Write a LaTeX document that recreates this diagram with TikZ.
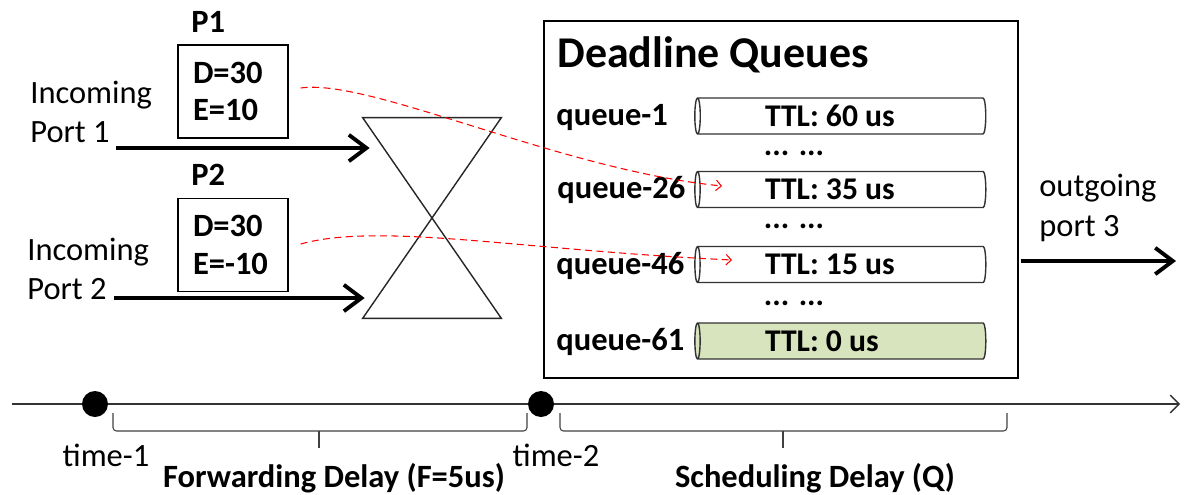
\documentclass[tikz,border=0pt]{standalone}
\usepackage{fontspec}
\setmainfont{Carlito}
\usepackage{tikz}
\usetikzlibrary{arrows.meta, positioning, shapes.geometric}

\definecolor{ttlgreen}{RGB}{215,228,189}

\tikzstyle{port} = [line width=2.2pt, -{Straight Barb[length=10pt,width=15pt]}]
\tikzstyle{enqueue} = [red, line width=0.6pt, dash pattern=on 4pt off 2.5pt, -{Straight Barb[length=3pt,width=6pt]}]
\tikzstyle{packet} = [rectangle, draw=black, line width=0.8pt, minimum width=2.2cm, minimum height=1.86cm, text width=1.6cm, align=left, font=\fontsize{18.5}{21.5}\selectfont\bfseries]
\tikzstyle{txt} = [font=\fontsize{18.5}{22.5}\selectfont, align=left, inner sep=0pt]
\tikzstyle{btxt} = [txt, font=\fontsize{18.5}{22.5}\selectfont\bfseries]
% cylinder sizes are given before the border is turned
\tikzstyle{queue} = [cylinder, shape border rotate=180, aspect=0.25, draw=black!80, line width=0.8pt, minimum height=5.82cm, minimum width=0.72cm, inner sep=0pt, text width=3.08cm, align=flush left, font=\fontsize{18}{20}\selectfont\bfseries]
\tikzstyle{gap} = [inner sep=0pt, text height=4pt, text depth=0pt, font=\fontsize{18}{18}\selectfont\bfseries]
\tikzstyle{dot} = [circle, fill=black, minimum size=0.52cm, inner sep=0pt]
\tikzstyle{bracket} = [line width=0.6pt, black!75, rounded corners=2pt]

\begin{document}
\begin{tikzpicture}[x=0.02cm, y=-0.02cm, node distance=0.4cm]
\useasboundingbox (0,0) rectangle (1193,494);
%----------------------------------------------------------------------------
% Incoming packets and ports
\node (p1) [packet] at (233,91.5) {D=30\\E=10};
\node (p2) [packet] at (233,245) {D=30\\E=-10};
\node (p1name) [btxt, anchor=west] at (191,22) {P1};
\node (p2name) [btxt, anchor=west] at (191,175) {P2};
\node (in1txt) [txt, anchor=west] at (30,112) {Incoming\\Port 1};
\node (in2txt) [txt, anchor=west] at (27,269) {Incoming\\Port 2};

% switch fabric (hourglass)
\node (fabric) [minimum width=2.76cm, minimum height=4cm, inner sep=0pt] at (432,218) {};
\draw [line width=0.8pt, black!85] (fabric.north west) -- (fabric.south east) -- (fabric.south west) -- (fabric.north east) -- cycle;

\coordinate (in1) at (116,148);
\coordinate (in2) at (114,298);
\draw [port] (in1) -- ([xshift=0.14cm]in1 -| fabric.west);
\draw [port] (in2) -- ([xshift=0.04cm]in2 -| fabric.west);

%----------------------------------------------------------------------------
% Deadline queues
\node (dq) [draw, line width=0.8pt, minimum width=9.48cm, minimum height=7.14cm] at (781,199.5) {};
\node (title) [btxt, font=\fontsize{25}{30}\selectfont\bfseries, anchor=west] at (557,55) {Deadline Queues};

\node (q1) [queue] at (842,116) {TTL: 60 us};
\node (q26) [queue] at (842,189.5) {TTL: 35 us};
\node (q46) [queue] at (842,264.5) {TTL: 15 us};
\node (q61) [queue, fill=ttlgreen] at (842,341) {TTL: 0 us};

\node (q1name) [btxt, anchor=west] at (556,117) {queue-1};
\node (q26name) [btxt, anchor=west] at (557,190) {queue-26};
\node (q46name) [btxt, anchor=west] at (556,266) {queue-46};
\node (q61name) [btxt, anchor=west] at (556,342) {queue-61};

\node (dots1) [gap] at (794,152) {... ...};
\node (dots2) [gap] at (794,225) {... ...};
\node (dots3) [gap] at (794,302) {... ...};

% outgoing port
\coordinate (out) at (1176,261);
\draw [port] ([xshift=0.04cm]out -| dq.east) -- (out);
\node (outtxt) [txt, anchor=west] at (1039,208) {outgoing\\port 3};

%----------------------------------------------------------------------------
% Packets into their queues
\draw [enqueue] ([xshift=0.24cm,yshift=0.07cm]p1.east) .. controls (370,78) and (560,170) .. ([xshift=-2.4cm,yshift=0.07cm]q26.center);
\draw [enqueue] ([xshift=0.24cm,yshift=0.02cm]p2.east) .. controls (380,222) and (520,250) .. ([xshift=-2.2cm,yshift=0.09cm]q46.center);

%----------------------------------------------------------------------------
% Time line and delays
\coordinate (tstart) at (12,404);
\coordinate (tend) at (1180,404);
\draw [line width=0.8pt, black!80, -{Straight Barb[length=5pt,width=10pt]}] (tstart) -- (tend);
\node (t1) [dot] at (95,404) {};
\node (t2) [dot] at (541,404) {};
\node (t1txt) [txt] at (106,455) {time-1};
\node (t2txt) [txt] at (556,455) {time-2};

\coordinate (fwdL) at (113,413);
\coordinate (fwdM) at (319,431);
\coordinate (fwdR) at (527,413);
\draw [bracket] (fwdL) |- (fwdM) -| (fwdR);
\draw [bracket] (fwdM) -- ++(0,17);

\coordinate (schL) at (560,413);
\coordinate (schM) at (783,431);
\coordinate (schR) at (1007,413);
\draw [bracket] (schL) |- (schM) -| (schR);
\draw [bracket] (schM) -- ++(0,17);

\node (fwdtxt) [btxt] at (334,478) {Forwarding Delay (F=5us)};
\node (schtxt) [btxt] at (815,478) {Scheduling Delay (Q)};

\end{tikzpicture}
\end{document}
